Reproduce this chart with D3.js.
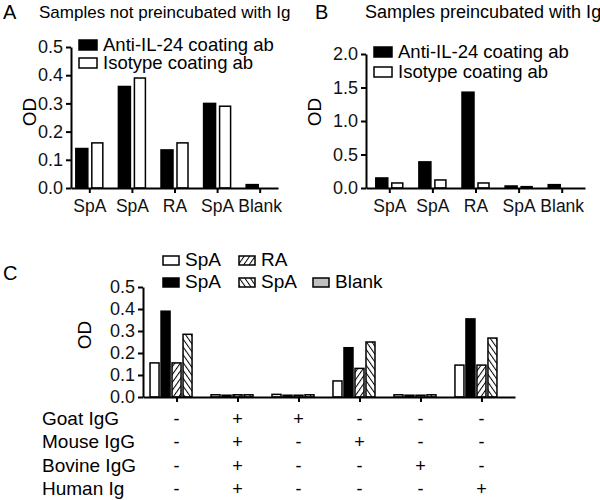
<!DOCTYPE html>
<html>
<head>
<meta charset="utf-8">
<script src="https://cdn.jsdelivr.net/npm/d3@7"></script>
<style>
  body { margin: 0; background: #fff; }
  svg, svg text { font-family: "Liberation Sans", Arial, sans-serif; }
  .axis path, .axis line { stroke: #000; stroke-width: 2; }
  .axis text { font-size: 18px; fill: #111; font-family: "Liberation Sans", Arial, sans-serif; }
</style>
</head>
<body>
<div id="canvas"></div>
<script>
// DATA
const samplesAB = ["SpA", "SpA", "RA", "SpA", "Blank"];
const seriesAB = ["Anti-IL-24 coating ab", "Isotype coating ab"];
const aAnti = [0.14, 0.36, 0.135, 0.30, 0.012];
const aIsotype = [0.16, 0.39, 0.16, 0.29, 0.0];
const bAnti = [0.15, 0.39, 1.43, 0.03, 0.05];
const bIsotype = [0.075, 0.12, 0.075, 0.02, 0.0];
const aTicks = [0.0, 0.1, 0.2, 0.3, 0.4, 0.5];
const bTicks = [0.0, 0.5, 1.0, 1.5, 2.0];

const seriesC = ["SpA", "SpA", "RA", "SpA", "Blank"];
const cWhiteSpA = [0.155, 0.01, 0.012, 0.073, 0.01, 0.145];
const cBlackSpA = [0.39, 0.008, 0.008, 0.224, 0.008, 0.355];
const cRA = [0.155, 0.01, 0.008, 0.13, 0.008, 0.145];
const cHatchSpA = [0.285, 0.01, 0.01, 0.25, 0.01, 0.268];
const cBlank = [0, 0, 0, 0, 0, 0];
const cTicks = [0.0, 0.1, 0.2, 0.3, 0.4, 0.5];
const treatments = ["Goat IgG", "Mouse IgG", "Bovine IgG", "Human Ig"];
const treatmentTable = [
    ["-", "+", "+", "-", "-", "-"],
    ["-", "+", "-", "+", "-", "-"],
    ["-", "+", "-", "-", "+", "-"],
    ["-", "+", "-", "-", "-", "+"]
];

// CANVAS
const width = 600, height = 500;
const svg = d3.select("#canvas").append("svg")
    .attr("width", width).attr("height", height);

// PATTERNS
const defs = svg.append("defs");
function hatch(id, angle) {
    const p = defs.append("pattern")
        .attr("id", id)
        .attr("patternUnits", "userSpaceOnUse")
        .attr("width", 4.5).attr("height", 4.5)
        .attr("patternTransform", `rotate(${angle})`);
    p.append("rect").attr("width", 4.5).attr("height", 4.5).attr("fill", "#fff");
    p.append("line").attr("x1", 0).attr("y1", 0).attr("x2", 0).attr("y2", 4.5)
        .attr("stroke", "#000").attr("stroke-width", 2);
}
hatch("hatchRA", 35);
hatch("hatchSpA", -35);

// PANEL A / B
function drawPanel(opt) {
    const x = d3.scalePoint().domain(d3.range(samplesAB.length))
        .range([opt.x0, opt.x1]).padding(opt.pad);
    const y = d3.scaleLinear().domain([0, opt.max]).range([opt.y0, opt.y1]);

    svg.append("text").attr("x", opt.letterX).attr("y", 19)
        .style("font-size", "20px").text(opt.letter);
    svg.append("text").attr("x", opt.titleX).attr("y", 18)
        .style("font-size", opt.titleSize).text(opt.title);

    const g = svg.append("g");
    const vals = [opt.anti, opt.iso];
    vals.forEach((arr, s) => {
        g.selectAll(null).data(arr).enter().append("rect")
            .attr("x", (d, i) => s == 0 ? x(i) - 13.5 : x(i) + 2.5)
            .attr("width", s == 0 ? 12 : 11)
            .attr("y", d => y(d))
            .attr("height", d => Math.max(0, y(0) - y(d)))
            .attr("fill", s == 0 ? "#000" : "#fff")
            .attr("stroke", "#000").attr("stroke-width", 1.5);
    });

    svg.append("g").attr("class", "axis")
        .attr("transform", `translate(${opt.x0},0)`)
        .call(d3.axisLeft(y).tickValues(opt.ticks).tickFormat(d3.format(".1f"))
            .tickSize(5).tickSizeOuter(0));
    svg.append("g").attr("class", "axis")
        .attr("transform", `translate(0,${opt.y0})`)
        .call(d3.axisBottom(x).tickFormat(i => samplesAB[i]).tickSize(5).tickSizeOuter(0))
        .selectAll("text").attr("y", 12).style("font-size", "17.5px");

    svg.append("text")
        .attr("transform", `translate(${opt.odX},112) rotate(-90)`)
        .attr("text-anchor", "middle").style("font-size", "19px").text("OD");

    // legend
    seriesAB.forEach((name, i) => {
        const ly = opt.legY + i * opt.legStep;
        svg.append("rect").attr("x", opt.legX).attr("y", ly - 11)
            .attr("width", 18).attr("height", 10)
            .attr("fill", i == 0 ? "#000" : "#fff").attr("stroke", "#000").attr("stroke-width", 1.5);
        svg.append("text").attr("x", opt.legX + 24).attr("y", ly)
            .style("font-size", "18.5px").text(name);
    });
}

drawPanel({
    letter: "A", letterX: 3, title: "Samples not preincubated with Ig", titleX: 39, titleSize: "17px",
    anti: aAnti, iso: aIsotype, max: 0.5, ticks: aTicks,
    x0: 71, x1: 278, pad: 0.43, y0: 188, y1: 47, odX: 36,
    legX: 79, legY: 51, legStep: 18
});
drawPanel({
    letter: "B", letterX: 315, title: "Samples preincubated with Ig", titleX: 365, titleSize: "18px",
    anti: bAnti, iso: bIsotype, max: 2.0, ticks: bTicks,
    x0: 366, x1: 585, pad: 0.54, y0: 188, y1: 54, odX: 321,
    legX: 374, legY: 58, legStep: 20
});

// PANEL C
const groups = d3.range(cWhiteSpA.length);
const xC = d3.scalePoint().domain(groups).range([143, 515]).padding(0.55);
const yC = d3.scaleLinear().domain([0, 0.5]).range([397, 287]);
const fillsC = ["#fff", "#000", "url(#hatchRA)", "url(#hatchSpA)", "#c0c0c0"];
const valsC = [cWhiteSpA, cBlackSpA, cRA, cHatchSpA, cBlank];

svg.append("text").attr("x", 3).attr("y", 280).style("font-size", "20px").text("C");

valsC.forEach((arr, s) => {
    svg.append("g").selectAll("rect").data(arr).enter().append("rect")
        .attr("x", (d, i) => xC(i) + (s - 2) * 11 - 4.5)
        .attr("width", 9)
        .attr("y", d => yC(d))
        .attr("height", d => Math.max(0, yC(0) - yC(d)))
        .attr("fill", fillsC[s])
        .attr("stroke", "#000").attr("stroke-width", 1.5);
});

svg.append("g").attr("class", "axis")
    .attr("transform", "translate(143,0)")
    .call(d3.axisLeft(yC).tickValues(cTicks).tickFormat(d3.format(".1f"))
        .tickSize(5).tickSizeOuter(0));
svg.append("g").attr("class", "axis")
    .attr("transform", "translate(0,397)")
    .call(d3.axisBottom(xC).tickFormat("").tickSize(5).tickSizeOuter(0));

svg.append("text").attr("transform", "translate(91,335) rotate(-90)")
    .attr("text-anchor", "middle").style("font-size", "19px").text("OD");

// legend C
const legPos = [[163, 266], [163, 288], [239, 266], [239, 288], [313, 288]];
seriesC.forEach((name, i) => {
    const [lx, ly] = legPos[i];
    svg.append("rect").attr("x", lx).attr("y", ly - 10)
        .attr("width", 16).attr("height", 9)
        .attr("fill", fillsC[i]).attr("stroke", "#000").attr("stroke-width", 1.5);
    svg.append("text").attr("x", lx + 22).attr("y", ly)
        .style("font-size", "19px").text(name);
});

// treatment table
treatments.forEach((name, r) => {
    const ty = 425 + r * 23.3;
    svg.append("text").attr("x", 42).attr("y", ty).style("font-size", "19px").text(name);
    svg.append("g").selectAll("text").data(treatmentTable[r]).enter().append("text")
        .attr("x", (d, i) => xC(i))
        .attr("y", ty)
        .attr("text-anchor", "middle")
        .style("font-size", "18px")
        .text(d => d);
});
</script>
</body>
</html>
